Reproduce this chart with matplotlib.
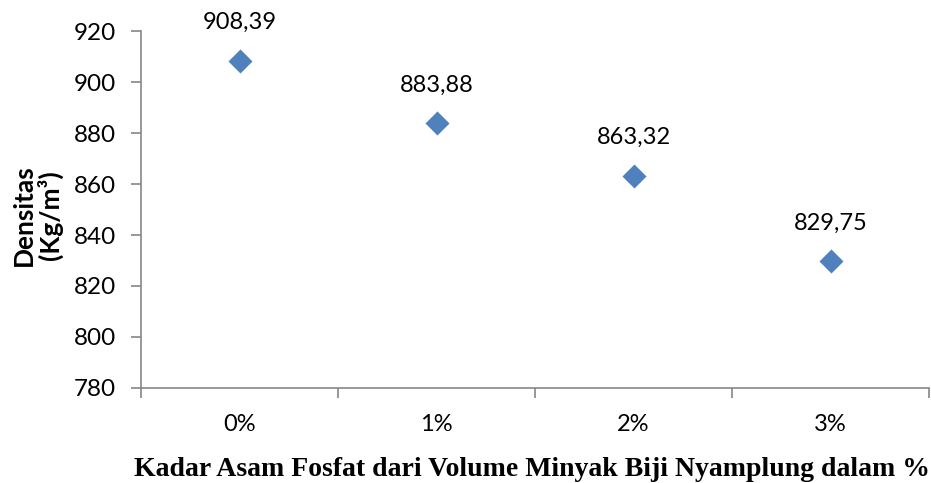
import numpy as np
import matplotlib.pyplot as plt

# Densitas biodiesel vs kadar asam fosfat
kategori = ['0%', '1%', '2%', '3%']
densitas = [908.39, 883.88, 863.32, 829.75]
label_nilai = ['908,39', '883,88', '863,32', '829,75']

plt.rcParams['font.family'] = ['Lato', 'DejaVu Sans']

fig = plt.figure(figsize=(9.31, 4.83), dpi=100)
ax = fig.add_axes([0.1515, 0.1967, 0.8465, 0.7391])

x = np.arange(len(kategori))
ax.scatter(x, densitas, marker='D', s=150, color='#4F81BD', zorder=3, linewidths=0)

for xi, yi, t in zip(x, densitas, label_nilai):
    ax.annotate(t, (xi, yi), xytext=(0, 38), textcoords='offset pixels',
                ha='center', va='center', fontsize=17)

ax.set_xlim(-0.5, 3.5)
ax.set_ylim(780, 920)
ax.set_yticks(np.arange(780, 921, 20))

# label kategori di tengah, garis tick di batas kategori
ax.set_xticks(x)
ax.set_xticklabels(kategori)
ax.set_xticks(np.arange(-0.5, 3.6, 1), minor=True)
ax.tick_params(axis='x', which='major', length=0, pad=19, labelsize=17)
ax.tick_params(axis='x', which='minor', length=7, width=1.2, color='#868686', direction='out')
ax.tick_params(axis='y', length=7, width=1.2, color='#868686', pad=11, labelsize=17.5)

for s in ['top', 'right']:
    ax.spines[s].set_visible(False)
for s in ['left', 'bottom']:
    ax.spines[s].set_color('#868686')
    ax.spines[s].set_linewidth(1.2)

fig.text(0.04, 0.555, 'Densitas\n(Kg/m³)', rotation=90, ha='center', va='center',
         fontsize=19, fontweight='bold', linespacing=1.05)
fig.text(0.571, 0.027, 'Kadar Asam Fosfat dari Volume Minyak Biji Nyamplung dalam %',
         ha='center', va='center', fontsize=20, fontweight='bold',
         family=['Liberation Serif'])

fig.savefig('out.png', dpi=100)
